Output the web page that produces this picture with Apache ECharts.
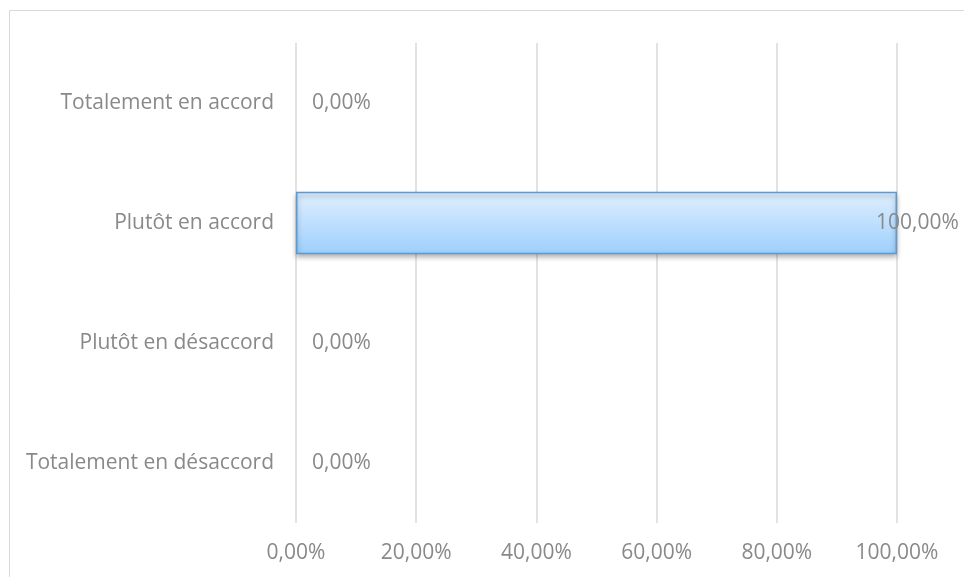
<!DOCTYPE html>
<html>
<head>
<meta charset="utf-8">
<script src="https://cdn.jsdelivr.net/npm/echarts@6/dist/echarts.min.js"></script>
<style>
  html, body { margin: 0; padding: 0; background: #fff; }
  #chart { width: 964px; height: 577px; }
</style>
</head>
<body>
<div id="chart"></div>
<script>
// Response categories, top to bottom as displayed
const categories = [
  'Totalement en accord',
  'Plutôt en accord',
  'Plutôt en désaccord',
  'Totalement en désaccord'
];
// Share of responses (%) per category
const shares = [0, 100, 0, 0];
// Value axis ticks (%)
const tickValues = [0, 20, 40, 60, 80, 100];

const fmt = v => v.toFixed(2).replace('.', ',') + '%';
const FONT = '"Open Sans", sans-serif';
const TEXT = '#898989';
const SIZE = 21;

const chart = echarts.init(document.getElementById('chart'), null, { renderer: 'canvas' });

chart.setOption({
  animation: false,
  backgroundColor: '#ffffff',
  graphic: [{
    type: 'rect',
    shape: { x: 9.5, y: 10.5, width: 1000, height: 1000 },
    style: { fill: 'none', stroke: '#d9d9d9', lineWidth: 1 },
    silent: true
  }],
  grid: { left: 296, right: 67, top: 43, bottom: 54 },
  xAxis: {
    type: 'value',
    min: tickValues[0],
    max: tickValues[tickValues.length - 1],
    interval: tickValues[1] - tickValues[0],
    axisLine: { show: false },
    axisTick: { show: false },
    splitLine: { show: true, lineStyle: { color: '#d9d9d9', width: 1.5 } },
    axisLabel: {
      color: TEXT, fontFamily: FONT, fontSize: SIZE, margin: 20,
      formatter: v => fmt(v)
    }
  },
  yAxis: {
    type: 'category',
    data: categories,
    inverse: true,
    axisLine: { show: false },
    axisTick: { show: false },
    axisLabel: { color: TEXT, fontFamily: FONT, fontSize: SIZE, margin: 22 }
  },
  series: [{
    type: 'bar',
    barCategoryGap: '48%',
    data: shares.map(v => ({
      value: v,
      itemStyle: v === 0 ? { borderWidth: 0, shadowBlur: 0, shadowOffsetY: 0 } : {},
      label: v >= 100 ? { offset: [-37, 0] } : {}
    })),
    itemStyle: {
      color: {
        type: 'linear', x: 0, y: 0, x2: 0, y2: 1,
        colorStops: [
          { offset: 0, color: '#e0efff' },
          { offset: 1, color: '#9dcffc' }
        ]
      },
      borderColor: '#5b9bd5',
      borderWidth: 1.5,
      shadowColor: 'rgba(0,0,0,0.35)',
      shadowBlur: 5,
      shadowOffsetY: 3
    },
    label: {
      show: true,
      position: 'right',
      distance: 16,
      color: TEXT,
      fontFamily: FONT,
      fontSize: SIZE,
      formatter: p => fmt(p.value)
    }
  }]
});
</script>
</body>
</html>
